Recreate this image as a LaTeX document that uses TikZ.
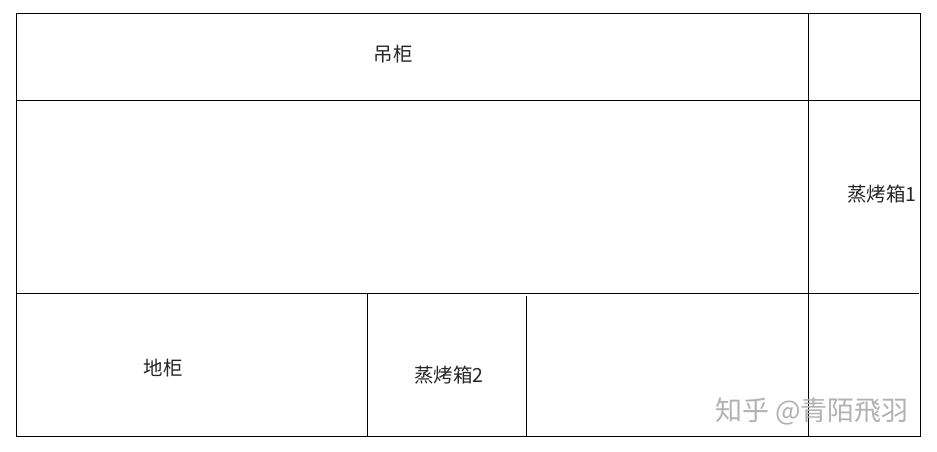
\documentclass[tikz,border=0pt]{standalone}
\usepackage{fontspec}
\newfontfamily\cjk{Noto Sans CJK SC}
\begin{document}
\begin{tikzpicture}[x=1pt,y=-1pt,
  wall/.style={draw=black,line width=1pt},
  lbl/.style={font=\cjk\fontsize{19.5}{19.5}\selectfont,text=black!85,inner sep=0pt},
  wm/.style={font=\cjk\fontsize{27}{27}\selectfont,text=black!30,inner sep=0pt}]
\useasboundingbox[fill=white] (0,0) rectangle (937,451);
% outer frame and partitions
\draw[wall] (16,13) rectangle (920,436);
\draw[wall] (16,100) -- (920,100);
\draw[wall] (16,293) -- (919,293);
\draw[wall] (808,13) -- (808,436);
\draw[wall] (367,293) -- (367,436);
\draw[wall] (526,296) -- (526,436);
% labels
\node[lbl] (diaogui) at (393,54) {吊柜};
\node[lbl] (zk1) at (882,194) {蒸烤箱1};
\node[lbl] (digui) at (163,368) {地柜};
\node[lbl] (zk2) at (449,375) {蒸烤箱2};
\node[wm] (wmark) at (812,411) {知乎 @青陌飛羽};
\end{tikzpicture}
\end{document}
